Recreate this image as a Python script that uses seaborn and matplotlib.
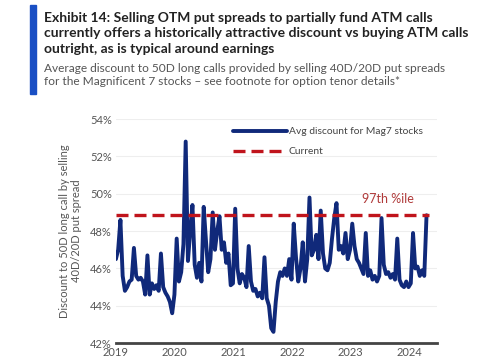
import pandas as pd
import matplotlib.pyplot as plt
import matplotlib.dates as mdates
import seaborn as sns

# biweekly avg discount (%)
y2019 = [46.5, 47.0, 48.6, 45.6, 44.8, 45.0, 45.3, 45.4, 47.1, 45.6, 45.4, 45.5, 45.3,
         44.6, 46.7, 44.6, 45.2, 44.9, 45.1, 44.8, 46.8, 45.0, 44.7, 44.5, 44.2, 43.6]
y2020 = [44.6, 47.6, 45.3, 45.8, 47.3, 52.8, 46.4, 48.0, 49.4, 46.2, 45.5, 46.3, 45.3,
         49.3, 47.5, 45.8, 46.5, 49.0, 47.0, 48.0, 48.8, 47.0, 47.4, 46.3, 46.8, 45.1]
y2021 = [45.2, 49.2, 46.0, 45.2, 45.7, 45.5, 45.0, 47.2, 45.3, 44.8, 44.9, 44.5, 44.7,
         44.4, 46.6, 44.4, 44.0, 42.8, 42.6, 44.2, 45.3, 45.8, 45.6, 46.0, 45.6, 46.5]
y2022 = [45.4, 48.4, 46.6, 45.3, 46.0, 47.4, 45.3, 46.5, 49.8, 46.7, 47.0, 47.8, 46.5,
         49.1, 46.8, 46.0, 45.9, 46.3, 47.6, 48.7, 49.5, 47.0, 47.2, 46.8, 47.9, 46.5]
y2023 = [47.0, 48.4, 47.2, 46.5, 46.3, 46.0, 45.7, 47.9, 45.6, 45.9, 45.4, 45.6, 45.3,
         45.6, 48.7, 46.2, 45.7, 45.8, 45.5, 45.7, 45.4, 47.6, 45.4, 45.1, 45.0, 45.3]
y2024 = [45.0, 45.2, 47.9, 46.0, 46.1, 45.6, 45.9, 45.6, 48.85]

current = 48.85
years = ['2019', '2020', '2021', '2022', '2023', '2024']
yticks = [42, 44, 46, 48, 50, 52, 54]

values = y2019 + y2020 + y2021 + y2022 + y2023 + y2024
dates = pd.date_range('2019-01-01', periods=len(values), freq='14D')
df = pd.DataFrame({'date': dates, 'discount': values})

sns.set_style('white')
plt.rcParams['font.family'] = ['Lato', 'DejaVu Sans']

fig = plt.figure(figsize=(4.85, 3.6), dpi=100)
ax = fig.add_axes([0.239, 0.047, 0.662, 0.622])

sns.lineplot(data=df, x='date', y='discount', ax=ax, color='#10297a', linewidth=2.8,
             label='Avg discount for Mag7 stocks')
ax.axhline(current, color='#c0141c', linewidth=2.4, dashes=(3.6, 1.8), xmax=0.975,
           label='Current')

ax.set_ylim(42, 54)
ax.set_xlim(pd.Timestamp('2019-01-01'), pd.Timestamp('2024-06-20'))
ax.set_yticks(yticks)
ax.set_yticklabels([f'{t}%' for t in yticks], color='#555555', fontsize=8)
ax.set_xticks([pd.Timestamp(f'{y}-01-01') for y in years])
ax.set_xticklabels(years, color='#555555', fontsize=8)
ax.tick_params(length=0, pad=3)
ax.grid(axis='y', color='#eeeeee', linewidth=0.8)
for s in ['left', 'right', 'top']:
    ax.spines[s].set_visible(False)
ax.spines['bottom'].set_color('#444444')
ax.spines['bottom'].set_linewidth(2)
ax.set_xlabel('')
ax.set_ylabel('Discount to 50D long call by selling\n40D/20D put spread',
              fontsize=8, color='#555555', labelpad=6, linespacing=1.1)

ax.text(pd.Timestamp('2023-08-20'), 49.4, '97th %ile', color='#b03a3a', fontsize=9,
        ha='center', va='bottom')

leg = ax.legend(loc='upper right', bbox_to_anchor=(0.985, 1.005), frameon=False,
                fontsize=7.4, handlelength=5.2, labelspacing=1.05, handletextpad=0.2)
for t in leg.get_texts():
    t.set_color('#444444')

# header
fig.patches.append(plt.Rectangle((0.061, 0.74), 0.014, 0.245, transform=fig.transFigure,
                                 color='#1a4fc4', zorder=5))
fig.text(0.091, 0.968, 'Exhibit 14: Selling OTM put spreads to partially fund ATM calls\n'
         'currently offers a historically attractive discount vs buying ATM calls\n'
         'outright, as is typical around earnings',
         fontsize=10, fontweight='bold', color='#222222', va='top', linespacing=1.38)
fig.text(0.091, 0.825, 'Average discount to 50D long calls provided by selling 40D/20D put spreads\n'
         'for the Magnificent 7 stocks \u2013 see footnote for option tenor details*',
         fontsize=8.6, color='#555555', va='top', linespacing=1.2)

fig.savefig('out.png', dpi=100)
